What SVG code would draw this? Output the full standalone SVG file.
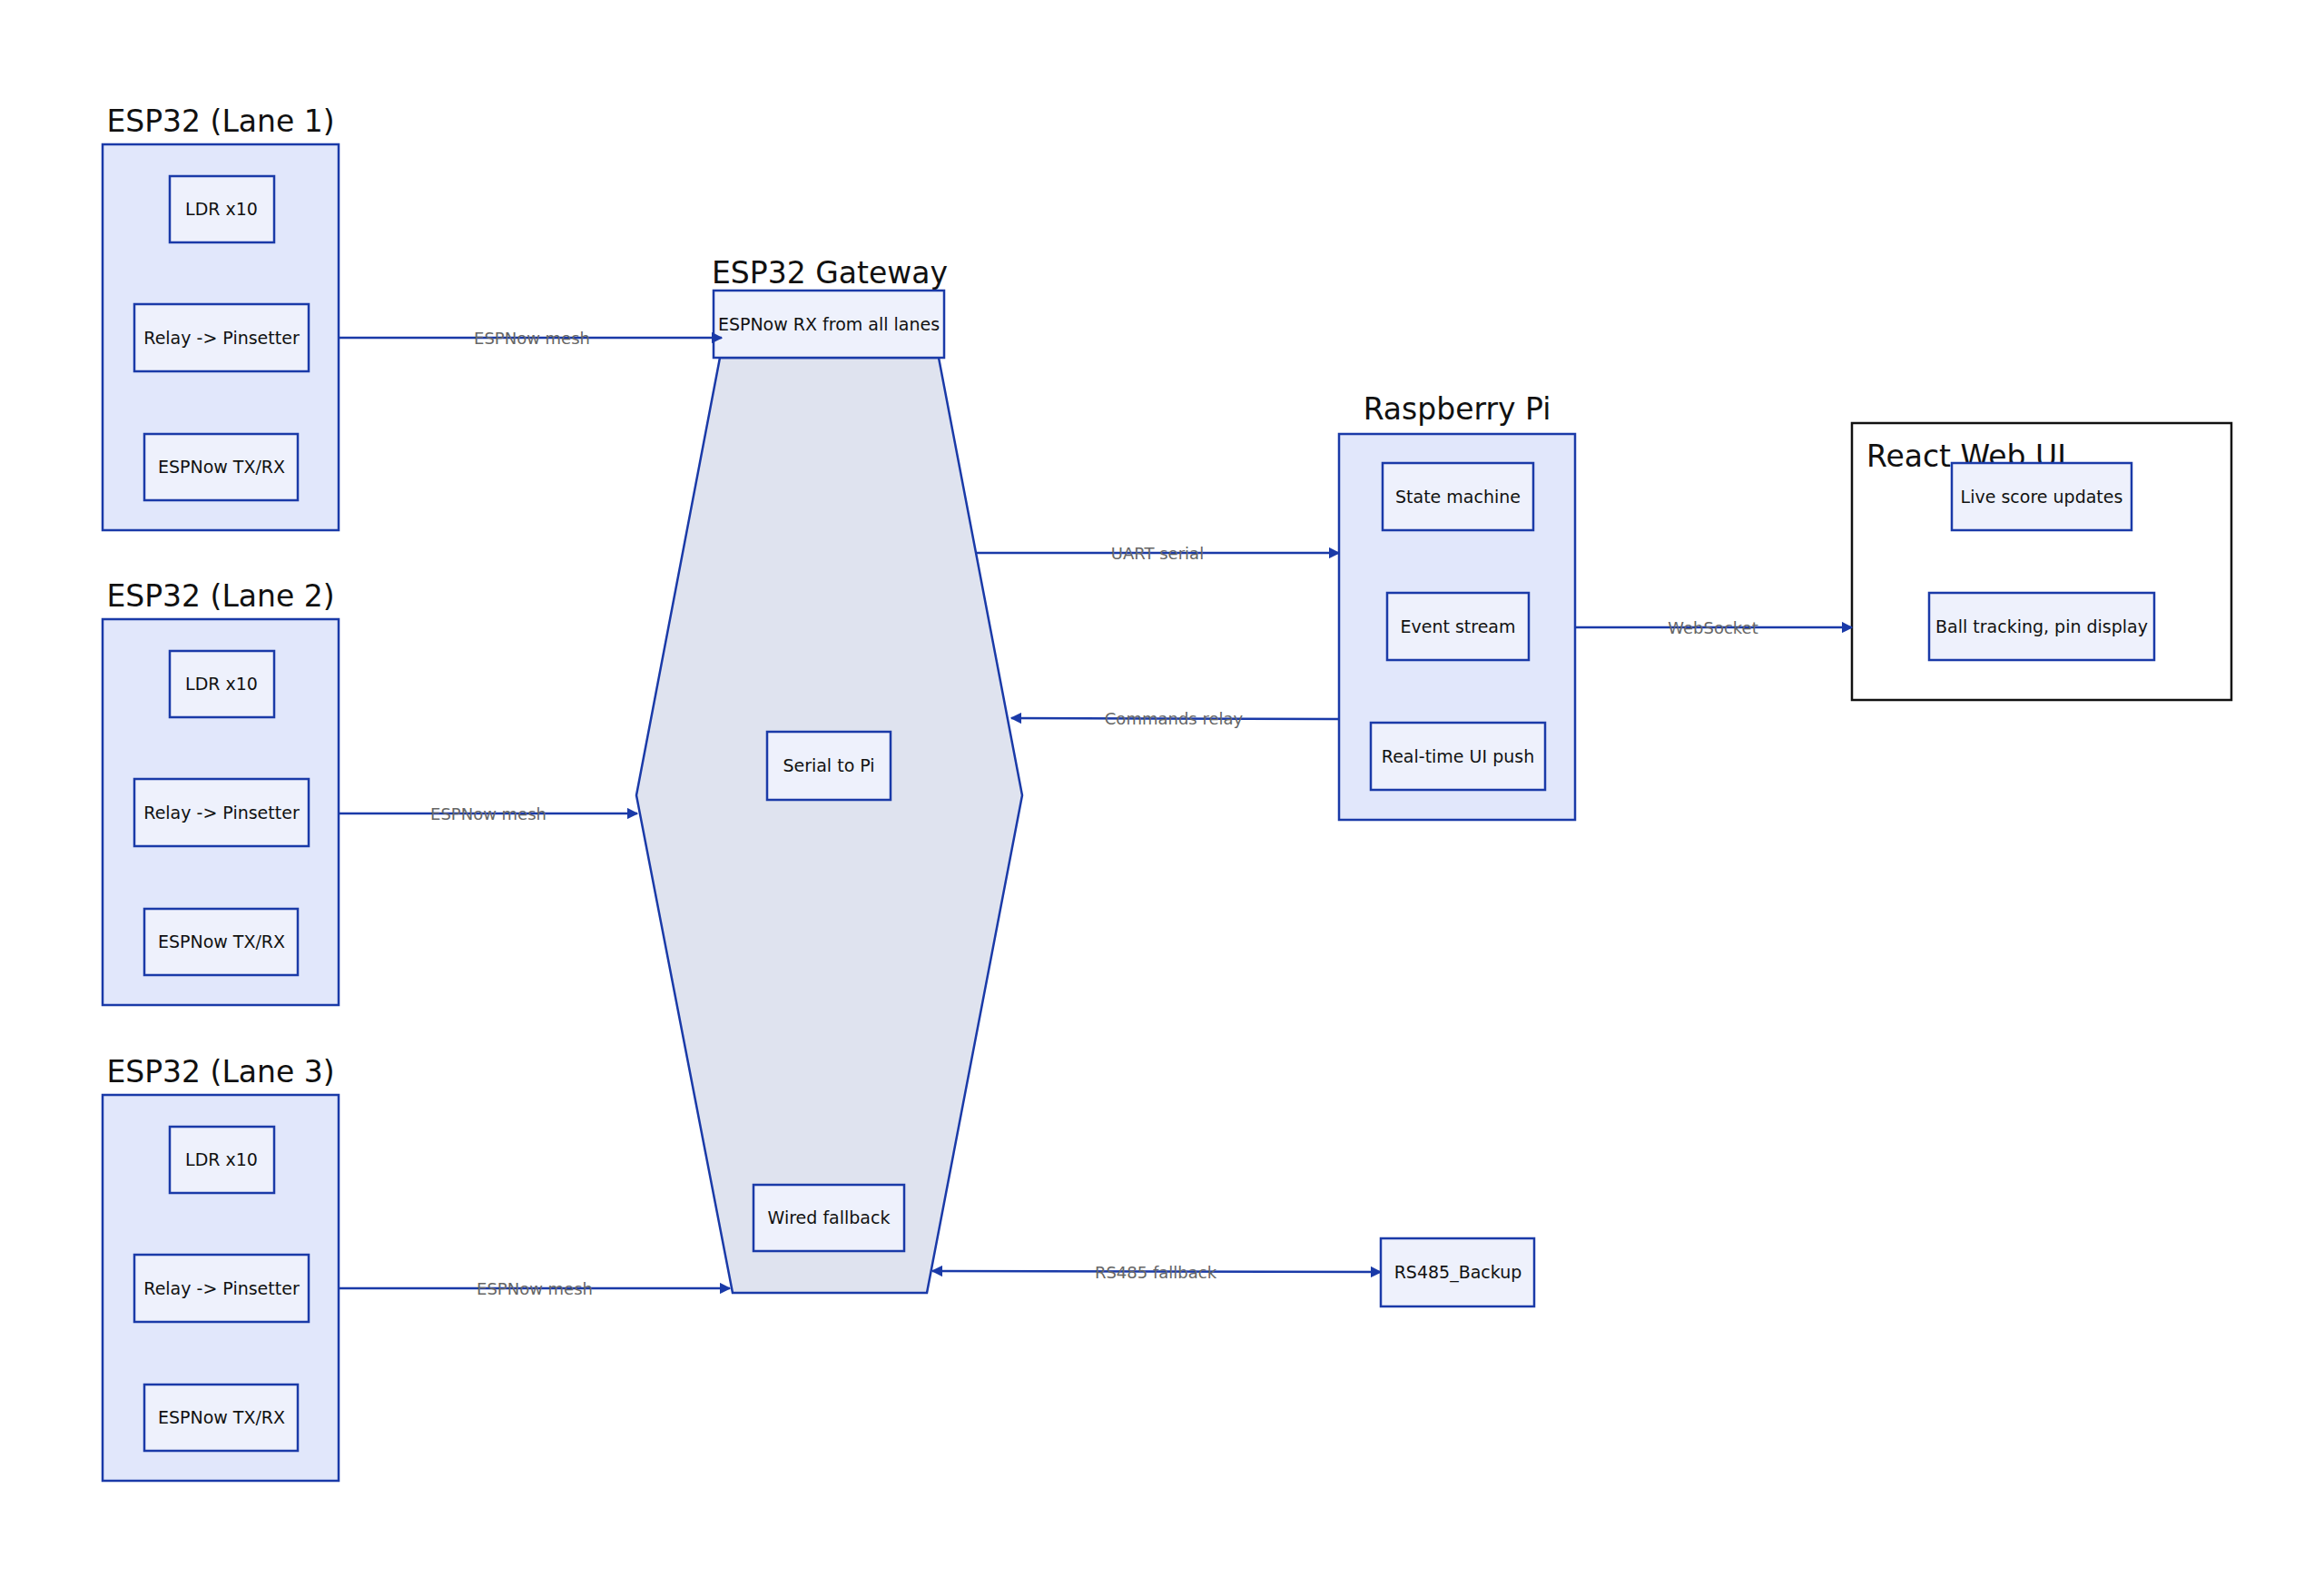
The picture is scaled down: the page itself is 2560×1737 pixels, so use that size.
<svg xmlns="http://www.w3.org/2000/svg" width="2560" height="1737" viewBox="0 0 2560 1737">
<style>
.grp{fill:#e1e7fb;stroke:#1a3aa8;stroke-width:2.5}
.box{fill:#eef1fc;stroke:#1a3aa8;stroke-width:2.5}
.t{font-family:"DejaVu Sans",sans-serif;font-size:19px;fill:#111;text-anchor:middle;dominant-baseline:central}
.title{font-family:"DejaVu Sans",sans-serif;font-size:33px;fill:#111;text-anchor:middle}
.e{stroke:#1a3aa8;stroke-width:2.5;fill:none}
.lb{font-family:"DejaVu Sans",sans-serif;font-size:18px;fill:#666;text-anchor:middle;dominant-baseline:central}
</style>
<defs>
<marker id="a" viewBox="0 0 10 10" refX="9" refY="5" markerWidth="5" markerHeight="5" orient="auto-start-reverse"><path d="M0,0L10,5L0,10z" fill="#1a3aa8"/></marker>
</defs>
<rect width="2560" height="1737" fill="#fff"/>
<g id="lane1">
<text class="title" x="243" y="145">ESP32 (Lane 1)</text>
<rect class="grp" x="113" y="159" width="260" height="425"/>
<rect class="box" x="187" y="194" width="115" height="73"/><text class="t" x="244" y="230">LDR x10</text>
<rect class="box" x="148" y="335" width="192" height="74"/><text class="t" x="244" y="372">Relay -&gt; Pinsetter</text>
<rect class="box" x="159" y="478" width="169" height="73"/><text class="t" x="244" y="514">ESPNow TX/RX</text>
</g>
<g id="lane2" transform="translate(0,523)">
<text class="title" x="243" y="145">ESP32 (Lane 2)</text>
<rect class="grp" x="113" y="159" width="260" height="425"/>
<rect class="box" x="187" y="194" width="115" height="73"/><text class="t" x="244" y="230">LDR x10</text>
<rect class="box" x="148" y="335" width="192" height="74"/><text class="t" x="244" y="372">Relay -&gt; Pinsetter</text>
<rect class="box" x="159" y="478" width="169" height="73"/><text class="t" x="244" y="514">ESPNow TX/RX</text>
</g>
<g id="lane3" transform="translate(0,1047)">
<text class="title" x="243" y="145">ESP32 (Lane 3)</text>
<rect class="grp" x="113" y="159" width="260" height="425"/>
<rect class="box" x="187" y="194" width="115" height="73"/><text class="t" x="244" y="230">LDR x10</text>
<rect class="box" x="148" y="335" width="192" height="74"/><text class="t" x="244" y="372">Relay -&gt; Pinsetter</text>
<rect class="box" x="159" y="478" width="169" height="73"/><text class="t" x="244" y="514">ESPNow TX/RX</text>
</g>
<g id="gateway">
<polygon points="793,394 1034,394 1126,876 1021,1424 807,1424 701,876" fill="#dfe3ef" stroke="#1a3aa8" stroke-width="2.5"/>
<text class="title" x="914" y="312">ESP32 Gateway</text>
<rect class="box" x="786" y="320" width="254" height="74"/><text class="t" x="913" y="357">ESPNow RX from all lanes</text>
<rect class="box" x="845" y="806" width="136" height="75"/><text class="t" x="913" y="843">Serial to Pi</text>
<rect class="box" x="830" y="1305" width="166" height="73"/><text class="t" x="913" y="1341">Wired fallback</text>
</g>
<g id="pi">
<text class="title" x="1605" y="462">Raspberry Pi</text>
<rect class="grp" x="1475" y="478" width="260" height="425"/>
<rect class="box" x="1523" y="510" width="166" height="74"/><text class="t" x="1606" y="547">State machine</text>
<rect class="box" x="1528" y="653" width="156" height="74"/><text class="t" x="1606" y="690">Event stream</text>
<rect class="box" x="1510" y="796" width="192" height="74"/><text class="t" x="1606" y="833">Real-time UI push</text>
</g>
<g id="react">
<rect x="2040" y="466" width="418" height="305" fill="#fff" stroke="#111" stroke-width="2.5"/>
<text class="title" x="2056" y="514" text-anchor="start" style="text-anchor:start">React Web UI</text>
<rect class="box" x="2150" y="510" width="198" height="74"/><text class="t" x="2249" y="547">Live score updates</text>
<rect class="box" x="2125" y="653" width="248" height="74"/><text class="t" x="2249" y="690">Ball tracking, pin display</text>
</g>
<g id="rs485">
<rect class="box" x="1521" y="1364" width="169" height="75"/><text class="t" x="1606" y="1401">RS485_Backup</text>
</g>
<g id="edges">
<path class="e" d="M373,372H795" marker-end="url(#a)"/><text class="lb" x="586" y="372">ESPNow mesh</text>
<path class="e" d="M373,896H702" marker-end="url(#a)"/><text class="lb" x="538" y="896">ESPNow mesh</text>
<path class="e" d="M373,1419H804" marker-end="url(#a)"/><text class="lb" x="589" y="1419">ESPNow mesh</text>
<path class="e" d="M1075,609H1475" marker-end="url(#a)"/><text class="lb" x="1275" y="609">UART serial</text>
<path class="e" d="M1475,792L1114,791" marker-end="url(#a)"/><text class="lb" x="1293" y="791">Commands relay</text>
<path class="e" d="M1735,691H2040" marker-end="url(#a)"/><text class="lb" x="1887" y="691">WebSocket</text>
<path class="e" d="M1027,1400L1521,1401" marker-start="url(#a)" marker-end="url(#a)"/><text class="lb" x="1273" y="1401">RS485 fallback</text>
</g>
</svg>
